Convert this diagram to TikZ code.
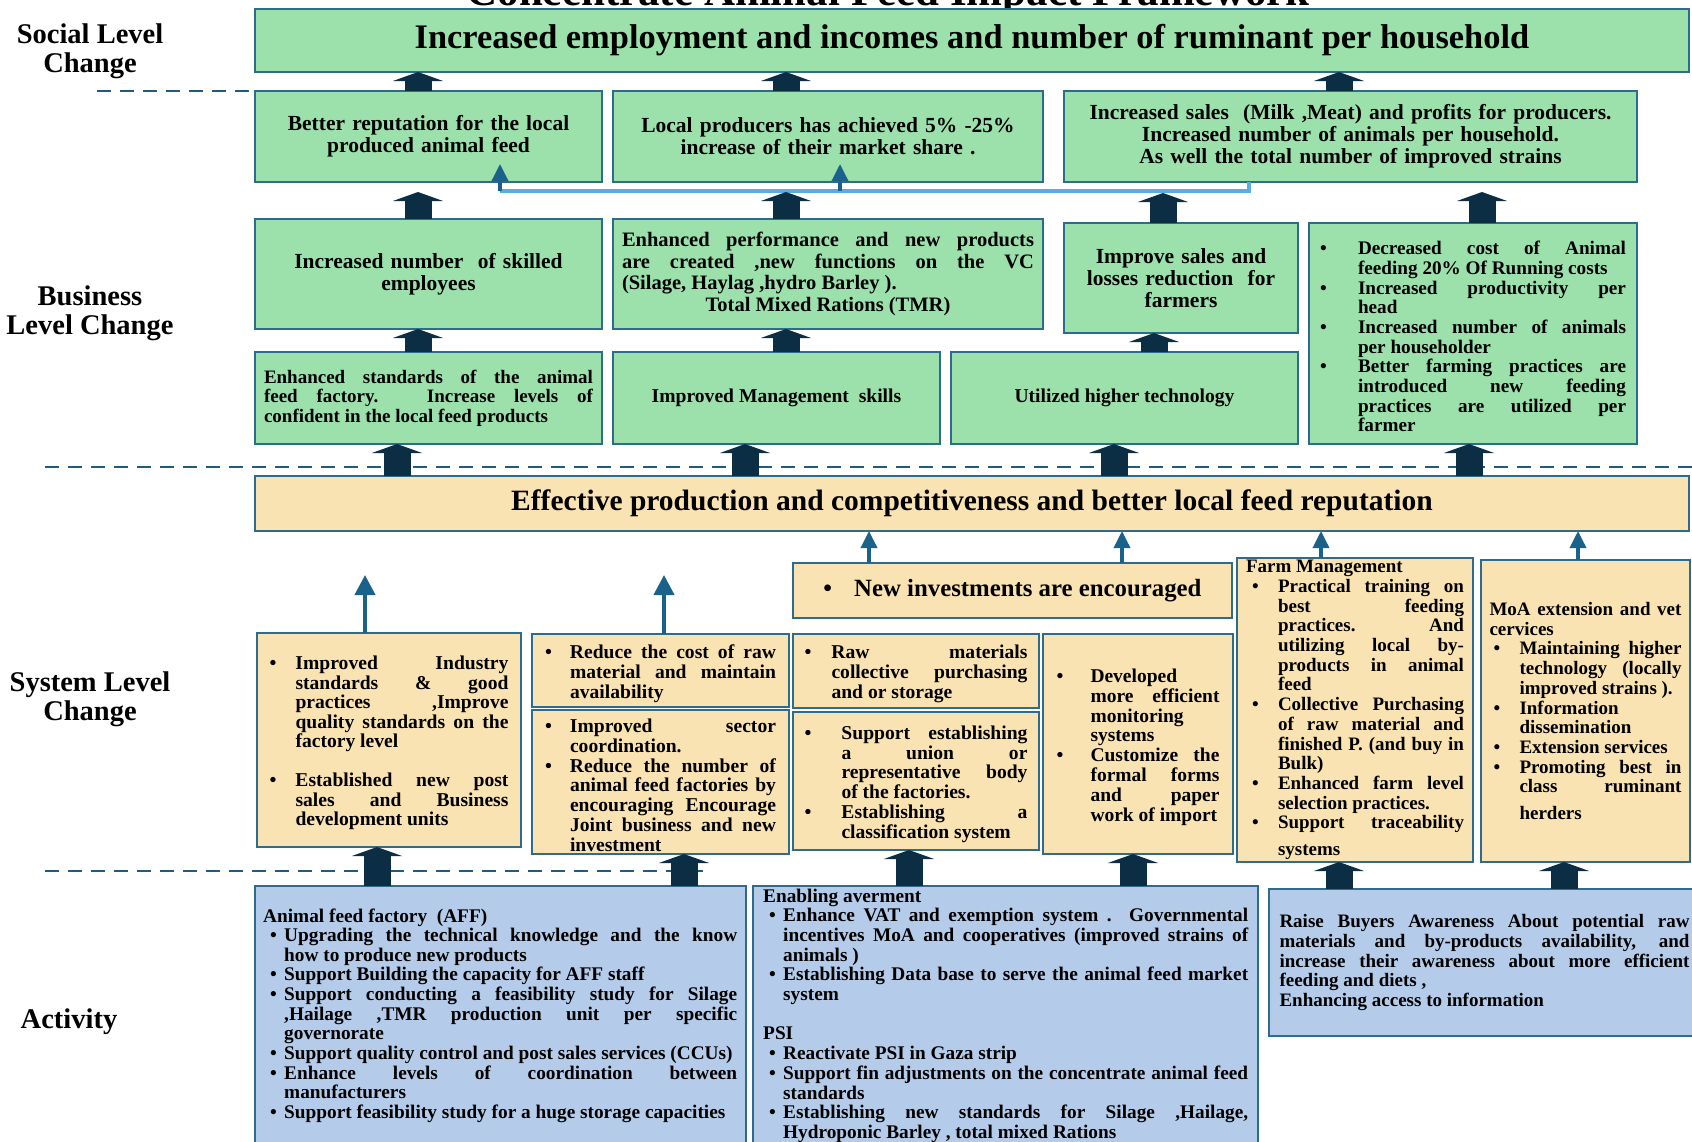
\documentclass[tikz,border=0pt]{standalone}
\usepackage{fontspec}
\setmainfont{Liberation Serif}
\usetikzlibrary{arrows.meta}
\definecolor{gfill}{RGB}{156,225,172}
\definecolor{yfill}{RGB}{250,227,178}
\definecolor{bfill}{RGB}{180,204,234}
\definecolor{edge}{RGB}{46,108,142}
\definecolor{navy}{RGB}{12,46,68}
\definecolor{tblue}{RGB}{27,98,138}
\definecolor{lblue}{RGB}{90,172,228}
\definecolor{dashc}{RGB}{30,92,128}
\newlength\bulind \newlength\bulofs
\newcommand\bl[2]{\setlength\bulind{#1pt}\setlength\bulofs{#2pt}}
\newcommand\bitem[1]{\par\hangindent=\bulind\hangafter=1\noindent\hbox to \bulind{\hskip\bulofs\textbullet\hfil}#1\par}
\newcommand\fz[2]{\fontsize{#1}{#2}\selectfont\bfseries}
\newcommand\boxnode[7]{%
  \pgfmathsetmacro\bxX{(#3+#5)/2}%
  \pgfmathsetmacro\bxY{(#4+#6)/2}%
  \pgfmathsetmacro\bxW{#5-#3}%
  \pgfmathsetmacro\bxH{#6-#4}%
  \node[#2,minimum width=\bxW pt,minimum height=\bxH pt] (#1) at (\bxX,\bxY) {#7};}
\begin{document}
\begin{tikzpicture}[x=1pt,y=-1pt,
  box/.style={draw=edge,line width=1.8pt,inner sep=0pt,outer sep=0pt},
  gbox/.style={box,fill=gfill},
  ybox/.style={box,fill=yfill},
  bbox/.style={box,fill=bfill},
  bigarr/.style={draw=navy,line width=27pt,-{Triangle[width=50pt,length=9pt]}},
  thinarr/.style={draw=tblue,line width=4pt,-{Triangle[width=20pt,length=20pt]}},
  smallarr/.style={draw=tblue,line width=3.5pt,-{Triangle[width=16pt,length=17pt]}},
  linkline/.style={draw=lblue,line width=4pt},
  dashline/.style={draw=dashc,line width=2.5pt,dash pattern=on 14pt off 9pt},
  lbl/.style={align=center,font=\fz{28.5}{29},inner sep=0pt}]
\fill[white] (0,0) rectangle (1692,1141);
\useasboundingbox (0,0) rectangle (1692,1141);

% column coordinates
\foreach \c in {365,377,397,418,500,664,684,745,786,840,869,909,1114,1122,1133,1154,1163,1249,1321,1339,1469,1482,1564,1578}
  \coordinate (c\c) at (\c,0);

% title (cut off at the top)
\node[font=\fz{43}{45},anchor=base,inner sep=0pt] (title) at (888,5) {Concentrate Animal Feed Impact Framework};

% left labels
\node[lbl] (lsoc) at (90,51.5) {Social Level\\Change};
\node[lbl] (lbus) at (90,313.5) {Business\\Level Change};
\node[lbl] (lsys) at (90,699) {System Level\\Change};
\node[lbl] (lact) at (69,1021.5) {Activity};

% dashed separators
\coordinate (d1s) at (97,91);
\coordinate (d2s) at (45,467); \coordinate (d2e) at (1692,467);
\coordinate (d3s) at (45,871); \coordinate (d3e) at (712,871);

% social level
\boxnode{top}{gbox,font=\fz{34.4}{36}}{255}{9}{1689}{72}{Increased employment and incomes and number of ruminant per household}

% row 2
\boxnode{r2a}{gbox,text width=330pt,align=center,font=\fz{21.5}{22}}{255}{91}{602}{182}{Better reputation for the local\par produced animal feed\par}
\boxnode{r2b}{gbox,text width=410pt,align=center,font=\fz{21.5}{22}}{613}{91}{1043}{182}{Local producers has achieved 5\% -25\%\par increase of their market share .\par}
\boxnode{r2c}{gbox,text width=550pt,align=center,font=\fz{21.5}{22}}{1064}{91}{1637}{182}{Increased sales\ \ (Milk ,Meat) and profits for producers.\par Increased number of animals per household.\par As well the total number of improved strains\par}

% row 3
\boxnode{r3a}{gbox,text width=330pt,align=center,font=\fz{21.5}{22.5}}{255}{219}{602}{329}{Increased number\ \ of skilled\par employees\par}
\boxnode{r3b}{gbox,text width=412pt,align=justify,font=\fz{20.5}{21.6}}{613}{219}{1043}{329}{Enhanced performance and new products\linebreak are created ,new functions on the VC\linebreak (Silage, Haylag ,hydro Barley ).\par\noindent\hbox to \linewidth{\hfil Total Mixed Rations (TMR)\hfil}\par}
\boxnode{r3c}{gbox,text width=215pt,align=center,font=\fz{21.5}{22}}{1064}{223}{1298}{333}{Improve sales and\par losses reduction\ \ for\par farmers\par}
\boxnode{r3d}{gbox,text width=306pt,align=justify,font=\fz{19.2}{19.7}}{1309}{223}{1637}{444}{\bl{38}{0}%
\bitem{Decreased cost of Animal\linebreak feeding 20\% Of Running costs}%
\bitem{Increased productivity per\linebreak head}%
\bitem{Increased number of animals\linebreak per householder}%
\bitem{Better farming practices are\linebreak introduced new feeding\linebreak practices are utilized per\linebreak farmer}}

% row 4
\boxnode{r4a}{gbox,text width=329pt,align=justify,font=\fz{19}{19.5}}{255}{352}{602}{444}{Enhanced standards of the animal\linebreak feed factory. Increase levels of\linebreak confident in the local feed products\par}
\boxnode{r4b}{gbox,font=\fz{19.6}{19.5}}{613}{352}{940}{444}{Improved Management\ \ skills}
\boxnode{r4c}{gbox,font=\fz{19.6}{19.5}}{951}{352}{1298}{444}{Utilized higher technology}

% yellow band
\boxnode{yel}{ybox,font=\fz{29.5}{30}}{255}{476}{1689}{531}{Effective production and competitiveness and better local feed reputation}

% system level
\boxnode{sni}{ybox,font=\fz{24.8}{26}}{793}{563}{1232}{618}{\textbullet\hskip 22pt New investments are encouraged}
\boxnode{sfm}{ybox,text width=218pt,align=justify,font=\fz{19}{19.7}}{1237}{558}{1473}{862}{\bl{32}{6}%
Farm Management%
\bitem{Practical training on\linebreak best feeding\linebreak practices. And\linebreak utilizing local by-\linebreak products in animal\linebreak feed}%
\bitem{Collective Purchasing\linebreak of raw material and\linebreak finished P. (and buy in\linebreak Bulk)}%
\bitem{Enhanced farm level\linebreak selection practices.}%
\bitem{Support\hfill traceability}\vskip 7pt\noindent\hskip\bulind systems\par}
\boxnode{smoa}{ybox,text width=192pt,align=justify,font=\fz{19}{19.7}}{1481}{560}{1690}{862}{\bl{30}{4}%
MoA extension and vet\linebreak cervices%
\bitem{Maintaining higher\linebreak technology (locally\linebreak improved strains ).}%
\bitem{Information\linebreak dissemination}%
\bitem{Extension services}%
\bitem{Promoting best in\linebreak class\hfill ruminant}\vskip 7pt\noindent\hskip\bulind herders\par}
\boxnode{sl}{ybox,text width=239pt,align=justify,font=\fz{19.6}{19.5}}{257}{633}{521}{847}{\bl{26}{0}%
\bitem{Improved Industry\linebreak standards \& good\linebreak practices ,Improve\linebreak quality standards on the\linebreak factory level}\vskip 19.5pt
\bitem{Established new post\linebreak sales and Business\linebreak development units}}
\boxnode{src}{ybox,text width=231pt,align=justify,font=\fz{19.6}{19.8}}{532}{634}{789}{707}{\bl{25}{0}%
\bitem{Reduce the cost of raw\linebreak material and maintain\linebreak availability}}
\boxnode{ssc}{ybox,text width=231pt,align=justify,font=\fz{19.6}{19.8}}{532}{710}{789}{854}{\bl{25}{0}%
\bitem{Improved sector\linebreak coordination.}%
\bitem{Reduce the number of\linebreak animal feed factories by\linebreak encouraging Encourage\linebreak Joint business and new\linebreak investment}}
\boxnode{sraw}{ybox,text width=223pt,align=justify,font=\fz{19.6}{19.8}}{793}{634}{1039}{708}{\bl{27}{0}%
\bitem{Raw materials\linebreak collective purchasing\linebreak and or storage}}
\boxnode{sse}{ybox,text width=223pt,align=justify,font=\fz{19.6}{19.8}}{793}{712}{1039}{850}{\bl{37}{0}%
\bitem{Support establishing\linebreak a union or\linebreak representative body\linebreak of the factories.}%
\bitem{Establishing a\linebreak classification system}}
\boxnode{sdev}{ybox,text width=163pt,align=justify,font=\fz{19.5}{19.8}}{1043}{634}{1233}{854}{\bl{34}{0}%
\bitem{Developed\linebreak more efficient\linebreak monitoring\linebreak systems}%
\bitem{Customize the\linebreak formal forms\linebreak and paper\linebreak work of import}}

% activity level
\boxnode{aff}{bbox}{255}{886}{746}{1160}{}
\boxnode{ena}{bbox}{753}{886}{1258}{1160}{}
\boxnode{rai}{bbox,text width=410pt,align=justify,font=\fz{19}{19.7}}{1269}{889}{1700}{1036}{Raise Buyers Awareness About potential raw\linebreak materials and by-products availability, and\linebreak increase their awareness about more efficient\linebreak feeding and diets ,\par\noindent Enhancing access to information\par}
\node[anchor=base west,text width=474pt,align=justify,font=\fz{19.3}{19.65},inner sep=0pt] (afft) at (263,922) {\bl{21}{7}%
Animal feed factory\ \ (AFF)%
\bitem{Upgrading the technical knowledge and the know\linebreak how to produce new products}%
\bitem{Support Building the capacity for AFF staff}%
\bitem{Support conducting a feasibility study for Silage\linebreak ,Hailage ,TMR production unit per specific\linebreak governorate}%
\bitem{Support quality control and post sales services (CCUs)}%
\bitem{Enhance levels of coordination between\linebreak manufacturers}%
\bitem{Support feasibility study for a huge storage capacities}};
\node[anchor=base west,text width=485pt,align=justify,font=\fz{19.3}{19.7},inner sep=0pt] (enat) at (763,902) {\bl{20}{6}%
Enabling averment%
\bitem{Enhance VAT and exemption system . Governmental\linebreak incentives MoA and cooperatives (improved strains of\linebreak animals )}%
\bitem{Establishing Data base to serve the animal feed market\linebreak system}\vskip 19.7pt
\noindent PSI%
\bitem{Reactivate PSI in Gaza strip}%
\bitem{Support fin adjustments on the concentrate animal feed\linebreak standards}%
\bitem{Establishing new standards for Silage ,Hailage,\linebreak Hydroponic Barley , total mixed Rations}};

% dashed lines
\draw[dashline] (d1s) -- (r2a.north west);
\draw[dashline] (d2s) -- (d2e);
\draw[dashline] (d3s) -- (d3e);

% link connector between outcomes
\coordinate (j1) at (500,191); \coordinate (j2) at (840,191); \coordinate (j3) at (1249,191);
\coordinate (t1) at (500,164); \coordinate (t2) at (840,164);
\draw[linkline] (j1) -- (j3) -- (r2c.south -| j3);
\draw[smallarr] (j1) -- (t1);
\draw[smallarr] (j2) -- (t2);

% thick arrows
\draw[bigarr] (r2a.north -| c418) -- (top.south -| c418);
\draw[bigarr] (r2b.north -| c786) -- (top.south -| c786);
\draw[bigarr] (r2c.north -| c1339) -- (top.south -| c1339);
\coordinate (e418) at (418,192); \coordinate (e786) at (786,192);
\coordinate (e1163) at (1163,193); \coordinate (e1482) at (1482,192);
\draw[bigarr] (r3a.north -| c418) -- (e418);
\draw[bigarr] (r3b.north -| c786) -- (e786);
\draw[bigarr] (r3c.north -| c1163) -- (e1163);
\draw[bigarr] (r3d.north -| c1482) -- (e1482);
\draw[bigarr] (r4a.north -| c418) -- (r3a.south -| c418);
\draw[bigarr] (r4b.north -| c786) -- (r3b.south -| c786);
\draw[bigarr] (r4c.north -| c1154) -- (r3c.south -| c1154);
\draw[bigarr] (yel.north -| c397) -- (r4a.south -| c397);
\draw[bigarr] (yel.north -| c745) -- (r4b.south -| c745);
\draw[bigarr] (yel.north -| c1114) -- (r4c.south -| c1114);
\draw[bigarr] (yel.north -| c1469) -- (r3d.south -| c1469);
\draw[bigarr] (aff.north -| c377) -- (sl.south -| c377);
\draw[bigarr] (aff.north -| c684) -- (ssc.south -| c684);
\draw[bigarr] (ena.north -| c909) -- (sse.south -| c909);
\draw[bigarr] (ena.north -| c1133) -- (sdev.south -| c1133);
\draw[bigarr] (rai.north -| c1339) -- (sfm.south -| c1339);
\draw[bigarr] (rai.north -| c1564) -- (smoa.south -| c1564);

% thin arrows
\coordinate (f365) at (365,575); \coordinate (f664) at (664,575);
\draw[thinarr] (sl.north -| c365) -- (f365);
\draw[thinarr] (src.north -| c664) -- (f664);
\draw[smallarr] (sni.north -| c869) -- (yel.south -| c869);
\draw[smallarr] (sni.north -| c1122) -- (yel.south -| c1122);
\draw[smallarr] (sfm.north -| c1321) -- (yel.south -| c1321);
\draw[smallarr] (smoa.north -| c1578) -- (yel.south -| c1578);
\end{tikzpicture}
\end{document}
